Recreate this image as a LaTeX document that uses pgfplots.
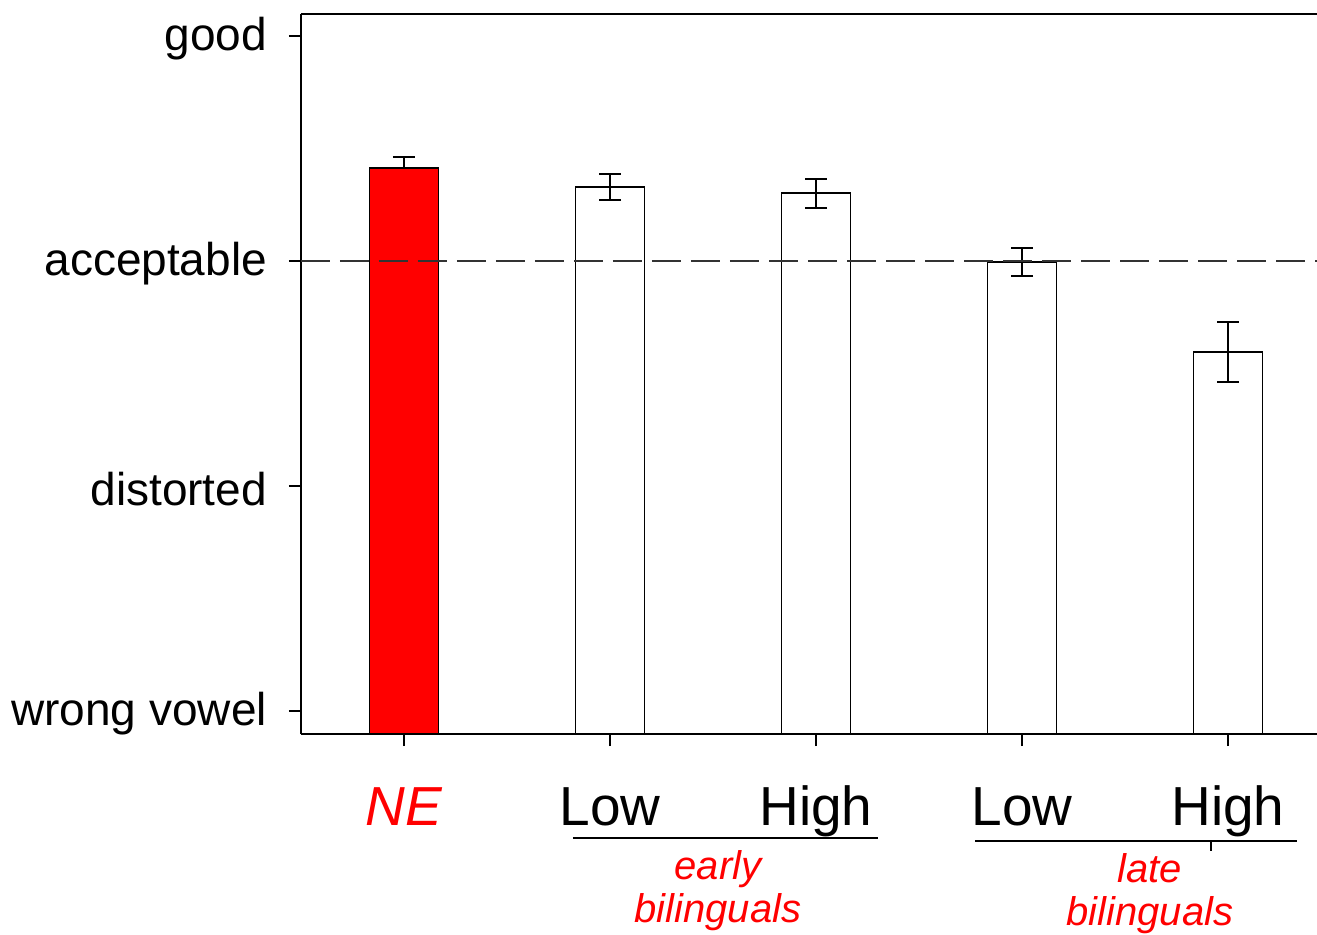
\documentclass[border=0pt]{standalone}
\usepackage{pgfplots}
\pgfplotsset{compat=1.18}
\usepackage{fontspec}
\setmainfont{Liberation Sans}
\begin{document}
\begin{tikzpicture}
\useasboundingbox (-150.5pt,-100pt) rectangle (508pt,367pt);
\begin{axis}[at={(0,0)}, anchor=south west, scale only axis, width=508pt, height=360pt,
 xmin=-0.5, xmax=4.432, ymin=0.898, ymax=4.098,
 axis x line*=bottom, axis y line*=left, axis line style={-, line width=1pt},
 xtick={0,1,2,3,4}, xticklabels={\textcolor{red}{\itshape NE},Low,High,Low,High},
 ytick={1,2,3,4}, yticklabels={wrong vowel,distorted,acceptable,good},
 tick align=outside, major tick length=6pt, tick style={line width=1pt, black},
 yticklabel style={font=\fontsize{23}{28}\selectfont, xshift=-7.5pt, yshift=-1.5pt},
 xticklabel style={font=\fontsize{27.5}{33}\selectfont, text height=20pt, text depth=6pt, yshift=-16pt},
 ybar, bar width=34.5pt, clip=false]
\addplot[bar shift=0pt, fill=red, draw=black, line width=0.75pt,
  error bars/.cd, y dir=plus, y explicit, error bar style={line width=1pt, black},
  error mark options={rotate=90, line width=1pt, mark size=5.5pt, black}]
  coordinates {(0,3.413) +- (0,0.049)};
\addplot[bar shift=0pt, fill=white, draw=black, line width=0.75pt,
  error bars/.cd, y dir=both, y explicit, error bar style={line width=1pt, black},
  error mark options={rotate=90, line width=1pt, mark size=5.5pt, black}]
  coordinates {(1,3.329) +- (0,0.058) (2,3.302) +- (0,0.064) (3,2.995) +- (0,0.062) (4,2.596) +- (0,0.133)};
\draw[line width=0.75pt, dash pattern=on 14.5pt off 5pt, black!80] (axis cs:-0.5,3) -- (axis cs:4.432,3);
\draw[line width=1pt] (rel axis cs:0,1) -- (rel axis cs:1,1);
\draw[line width=0.75pt] (axis cs:0.820,0.436) -- (axis cs:2.301,0.436);
\draw[line width=0.75pt] (axis cs:2.772,0.422) -- (axis cs:4.335,0.422);
\draw[line width=0.75pt] (axis cs:3.917,0.422) -- (axis cs:3.917,0.38);
\node[text=red, font=\itshape\fontsize{20}{21.5}\selectfont, align=center] at (axis cs:1.524,0.200) {early\\bilinguals};
\node[text=red, font=\itshape\fontsize{20}{21.5}\selectfont, align=center] at (axis cs:3.621,0.187) {late\\bilinguals};
\end{axis}
\end{tikzpicture}
\end{document}
